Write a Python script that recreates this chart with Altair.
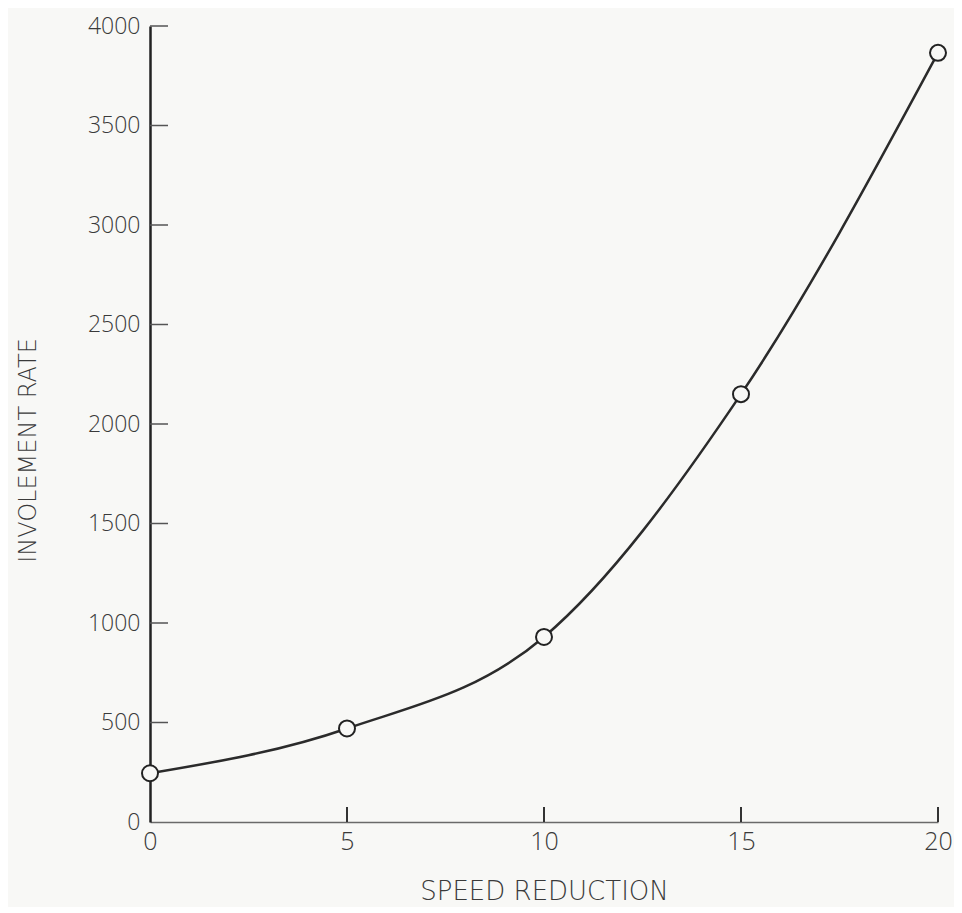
import altair as alt
import pandas as pd

# Data
speed = [0, 5, 10, 15, 20]
rate = [245, 470, 930, 2150, 3865]

x_tick_values = [0, 5, 10, 15, 20]
y_tick_values = [0, 500, 1000, 1500, 2000, 2500, 3000, 3500, 4000]
x_inner_ticks = [5, 10, 15, 20]
y_inner_ticks = [500, 1000, 1500, 2000, 2500, 3000, 3500, 4000]

BG = "#f8f8f6"
INK = "#2b2b2b"
FONT = "Open Sans"
TFONT = "DejaVu Sans"
TXT = "#3a3a3a"
W, H = 788, 796

df = pd.DataFrame({"speed": speed, "rate": rate})
xs = alt.Scale(domain=[0, 20], nice=False, zero=False)
ys = alt.Scale(domain=[0, 4000], nice=False)

x_axis = alt.Axis(
    values=x_tick_values, format="d", title="SPEED REDUCTION", ticks=False, grid=False,
    labelFont=FONT, labelFontSize=25, labelFontWeight=300, labelColor=TXT,
    labelPadding=7, labelFlush=False, labelOverlap=False,
    domainColor="#6a6a6a", domainWidth=1.5,
    titleFont=TFONT, titleFontSize=26, titleFontWeight=200, titleColor=TXT,
    titlePadding=24,
)
y_axis = alt.Axis(
    values=y_tick_values, format="d", title="INVOLEMENT RATE", ticks=False, grid=False,
    labelFont=FONT, labelFontSize=23, labelFontWeight=300, labelColor=TXT,
    labelPadding=10, labelFlush=False, labelOverlap=False,
    domainColor="#222222", domainWidth=2.5,
    titleFont=TFONT, titleFontSize=24, titleFontWeight=200, titleColor=TXT,
    titleX=-110, titleY=424,
)

line = alt.Chart(df).mark_line(
    interpolate="monotone", color=INK, strokeWidth=2.5
).encode(
    x=alt.X("speed:Q", scale=xs, axis=x_axis),
    y=alt.Y("rate:Q", scale=ys, axis=y_axis),
)

points = alt.Chart(df).mark_point(
    shape="circle", filled=True, color=BG, opacity=1, fillOpacity=1,
    stroke="#222222", strokeWidth=2, size=256
).encode(
    x=alt.X("speed:Q", scale=xs, axis=x_axis),
    y=alt.Y("rate:Q", scale=ys, axis=y_axis),
)

yticks = alt.Chart(pd.DataFrame({"v": y_inner_ticks})).mark_rule(
    color="#555555", strokeWidth=1.5
).encode(
    y=alt.Y("v:Q", scale=ys, axis=y_axis),
    x=alt.value(0),
    x2=alt.value(18),
)

xticks = alt.Chart(pd.DataFrame({"v": x_inner_ticks})).mark_rule(
    color="#333333", strokeWidth=2
).encode(
    x=alt.X("v:Q", scale=xs, axis=x_axis),
    y=alt.value(H),
    y2=alt.value(H - 15),
)

chart = alt.layer(line, yticks, xticks, points).properties(
    width=W, height=H,
    autosize=alt.AutoSizeParams(type="none"),
    padding={"left": 142, "top": 18, "right": 16, "bottom": 85},
    background=BG,
).configure_view(stroke=None)

chart.save("out.html", embed_options={"renderer": "svg", "actions": False})
